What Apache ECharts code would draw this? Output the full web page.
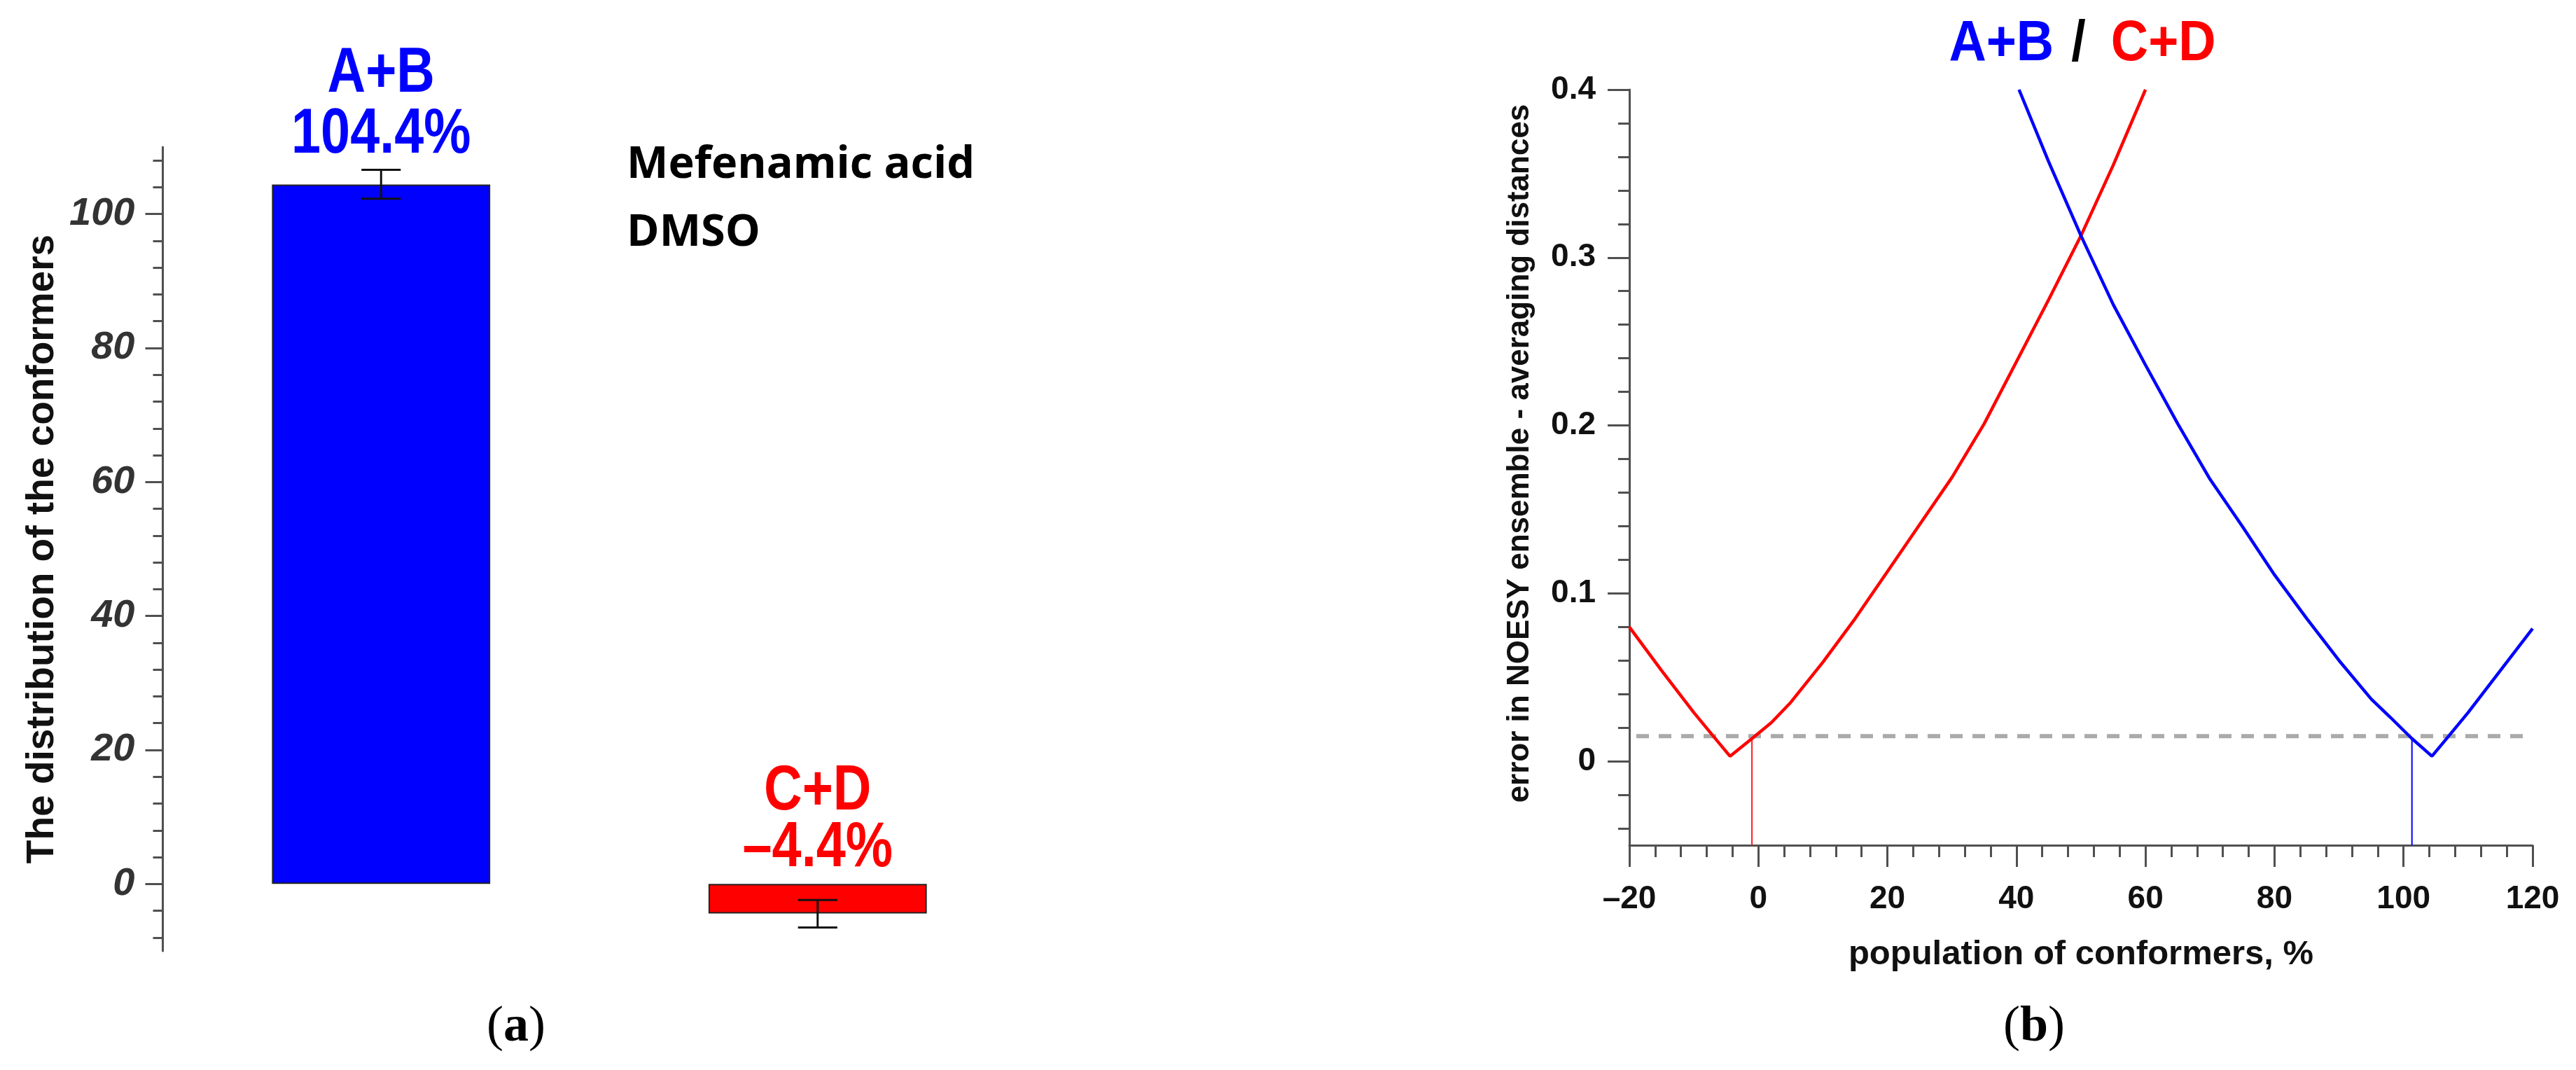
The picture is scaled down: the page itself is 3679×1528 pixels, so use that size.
<!DOCTYPE html>
<html><head><meta charset="utf-8">
<script src="https://cdn.jsdelivr.net/npm/echarts@6/dist/echarts.min.js"></script>
<style>html,body{margin:0;padding:0;background:#fff}#c{width:3679px;height:1528px}</style>
</head><body><div id="c"></div>
<script>
// ---------- panel (a) data ----------
const barCategories = ['A+B', 'C+D'];
const barValues = [104.4, -4.4];
const barErrLow = [102.3, -6.5];
const barErrHigh = [106.6, -2.4];
const barColors = ['#0000ff', '#ff0000'];
const leftYTickLabels = [0, 20, 40, 60, 80, 100];
const leftYMinorTicks = [-8, -4, 4, 8, 12, 16, 24, 28, 32, 36, 44, 48, 52, 56, 64, 68, 72, 76, 84, 88, 92, 96, 104, 108];

// ---------- panel (b) data ----------
const popRed = [-20, -15, -10, -7, -4.4, -1, 2, 5, 10, 15, 20, 25, 30, 35, 40, 45, 50, 55, 60];
const errRed = [0.080, 0.054, 0.029, 0.015, 0.003, 0.0135, 0.023, 0.035, 0.059, 0.085, 0.113, 0.141, 0.169, 0.201, 0.238, 0.275, 0.313, 0.355, 0.400];
const popBlue = [40.4, 45, 50, 55, 60, 65, 70, 75, 80, 85, 90, 95, 98, 101.3, 104.4, 107, 110, 115, 120];
const errBlue = [0.400, 0.357, 0.313, 0.272, 0.236, 0.201, 0.168, 0.140, 0.111, 0.085, 0.060, 0.037, 0.026, 0.0135, 0.003, 0.015, 0.029, 0.054, 0.079];
const thresholdErr = 0.015;
const bestRedPop = -1, bestBluePop = 101.3, bestErr = 0.0135;
const rightYTickLabels = [0, 0.1, 0.2, 0.3, 0.4];
const rightYMinorTicks = [-0.04, -0.02, 0.02, 0.04, 0.06, 0.08, 0.12, 0.14, 0.16, 0.18, 0.22, 0.24, 0.26, 0.28, 0.32, 0.34, 0.36, 0.38];

const SANS = '"Liberation Sans", Arial, sans-serif';
const AX = '#505050';

const chart = echarts.init(document.getElementById('c'), null, {renderer: 'canvas', width: 3679, height: 1528});

const fmtVal = v => (v < 0 ? '\u2013' + Math.abs(v) : String(v));

const option = {
  animation: false,
  backgroundColor: '#ffffff',
  grid: [
    {left: 232.5, top: 210, width: 1247, height: 1148},
    {left: 2327, top: 128, width: 1290, height: 1079}
  ],
  xAxis: [
    {gridIndex: 0, type: 'category', data: barCategories, axisLine: {show: false, onZero: false}, axisTick: {show: false}, axisLabel: {show: false}},
    {gridIndex: 1, type: 'value', min: -20, max: 120, interval: 20, position: 'bottom',
      axisLine: {onZero: false, lineStyle: {color: AX, width: 3}},
      axisTick: {length: 31, lineStyle: {color: AX, width: 3}},
      minorTick: {show: true, splitNumber: 5, length: 17, lineStyle: {color: AX, width: 3}},
      splitLine: {show: false}, minorSplitLine: {show: false},
      axisLabel: {margin: 54, fontFamily: SANS, fontWeight: 'bold', fontSize: 46, color: '#111', formatter: fmtVal},
      name: 'population of conformers, %', nameLocation: 'middle', nameGap: 132,
      nameTextStyle: {fontFamily: SANS, fontWeight: 'bold', fontSize: 49, color: '#111'}
    }
  ],
  yAxis: [
    {gridIndex: 0, type: 'value', min: -10, max: 110, position: 'left',
      axisLine: {show: true, onZero: false, lineStyle: {color: AX, width: 3}},
      axisTick: {show: true, length: 25, customValues: leftYTickLabels, lineStyle: {color: AX, width: 3}},
      axisLabel: {customValues: leftYTickLabels, margin: 40, fontFamily: SANS, fontStyle: 'italic', fontWeight: 'bold', fontSize: 56, color: '#333'},
      splitLine: {show: false},
      name: 'The distribution of the conformers', nameLocation: 'middle', nameGap: 144, nameRotate: 90,
      nameTextStyle: {fontFamily: SANS, fontWeight: 'bold', fontSize: 55, color: '#111'}
    },
    {gridIndex: 0, type: 'value', min: -10, max: 110, position: 'left',
      axisLine: {show: false, onZero: false},
      axisTick: {show: true, length: 14, customValues: leftYMinorTicks, lineStyle: {color: AX, width: 3}},
      axisLabel: {show: false}, splitLine: {show: false}
    },
    {gridIndex: 1, type: 'value', min: -0.05, max: 0.4, position: 'left',
      axisLine: {show: true, onZero: false, lineStyle: {color: AX, width: 3}},
      axisTick: {show: true, length: 31, customValues: rightYTickLabels, lineStyle: {color: AX, width: 3}},
      axisLabel: {customValues: rightYTickLabels, margin: 48, fontFamily: SANS, fontWeight: 'bold', fontSize: 46, color: '#111'},
      splitLine: {show: false},
      name: 'error in NOESY ensemble - averaging distances', nameLocation: 'middle', nameGap: 134, nameRotate: 90,
      nameTextStyle: {fontFamily: SANS, fontWeight: 'bold', fontSize: 44, color: '#111', padding: [0, 0, 0, 40]}
    },
    {gridIndex: 1, type: 'value', min: -0.05, max: 0.4, position: 'left',
      axisLine: {show: false, onZero: false},
      axisTick: {show: true, length: 16, customValues: rightYMinorTicks, lineStyle: {color: AX, width: 3}},
      axisLabel: {show: false}, splitLine: {show: false}
    }
  ],
  series: [
    {type: 'bar', xAxisIndex: 0, yAxisIndex: 0, barWidth: '50%',
      data: barValues.map((v, i) => ({value: v, itemStyle: {color: barColors[i]}})),
      itemStyle: {borderColor: '#222', borderWidth: 2}
    },
    {type: 'custom', xAxisIndex: 0, yAxisIndex: 0, z: 10,
      encode: {x: 0, y: [1, 2]},
      data: barCategories.map((c, i) => [i, barErrLow[i], barErrHigh[i]]),
      renderItem: function (params, api) {
        const x = api.value(0);
        const lo = api.coord([x, api.value(1)]);
        const hi = api.coord([x, api.value(2)]);
        const hw = api.size([1, 0])[0] * 0.045;
        const st = {stroke: '#111', lineWidth: 3};
        return {type: 'group', children: [
          {type: 'line', shape: {x1: lo[0], y1: lo[1], x2: hi[0], y2: hi[1]}, style: st},
          {type: 'line', shape: {x1: lo[0] - hw, y1: lo[1], x2: lo[0] + hw, y2: lo[1]}, style: st},
          {type: 'line', shape: {x1: hi[0] - hw, y1: hi[1], x2: hi[0] + hw, y2: hi[1]}, style: st}
        ]};
      }
    },
    {type: 'line', xAxisIndex: 1, yAxisIndex: 2, showSymbol: false, z: 1,
      data: [[-20, thresholdErr], [120, thresholdErr]],
      lineStyle: {color: '#aaaaaa', width: 6, type: [18, 14], dashOffset: -10}
    },
    {type: 'line', xAxisIndex: 1, yAxisIndex: 2, showSymbol: false, z: 3,
      data: popRed.map((x, i) => [x, errRed[i]]), lineStyle: {color: '#ff0000', width: 4.5}
    },
    {type: 'line', xAxisIndex: 1, yAxisIndex: 2, showSymbol: false, z: 3,
      data: popBlue.map((x, i) => [x, errBlue[i]]), lineStyle: {color: '#0000ff', width: 4.5}
    },
    {type: 'line', xAxisIndex: 1, yAxisIndex: 2, showSymbol: false, z: 2,
      data: [[bestRedPop, -0.05], [bestRedPop, bestErr]], lineStyle: {color: '#ff2020', width: 2}
    },
    {type: 'line', xAxisIndex: 1, yAxisIndex: 2, showSymbol: false, z: 2,
      data: [[bestBluePop, -0.05], [bestBluePop, bestErr]], lineStyle: {color: '#0000ff', width: 2}
    }
  ]
};
chart.setOption(option);

// Bar value labels, placed through the chart's own scale (condensed via scaleX)
const labelGraphics = [];
const lineOffsets = [[-157, -70], [-131, -50]];
barValues.forEach((v, i) => {
  const anchor = chart.convertToPixel({xAxisIndex: 0, yAxisIndex: 0}, [i, Math.max(v, 0)]);
  const lines = [barCategories[i], fmtVal(v) + '%'];
  lines.forEach((t, k) => {
    labelGraphics.push({type: 'text', x: anchor[0], y: anchor[1] + lineOffsets[i][k], scaleX: 0.84,
      style: {text: t, font: 'bold 90px ' + SANS, fill: barColors[i], align: 'center', verticalAlign: 'middle'}});
  });
});

chart.setOption({graphic: labelGraphics.concat([
  {type: 'text', x: 895, y: 236, style: {text: 'Mefenamic acid', font: 'bold 63px "Open Sans", sans-serif', fill: '#000', verticalAlign: 'middle'}},
  {type: 'text', x: 895, y: 333, style: {text: 'DMSO', font: 'bold 63px "Open Sans", sans-serif', fill: '#000', verticalAlign: 'middle'}},
  {type: 'text', x: 2974, y: 63, scaleX: 0.9, style: {text: '{b|A+B}{k|/}{r|C+D}', align: 'center', verticalAlign: 'middle',
    rich: {
      b: {fontFamily: SANS, fontWeight: 'bold', fontSize: 82, fill: '#0000ff'},
      k: {fontFamily: SANS, fontWeight: 'bold', fontSize: 82, fill: '#000', padding: [0, 40, 0, 28]},
      r: {fontFamily: SANS, fontWeight: 'bold', fontSize: 82, fill: '#ff0000'}
    }}},
  {type: 'text', x: 737, y: 1467, style: {text: '({a|a})', align: 'center', verticalAlign: 'middle',
    font: '72px "Liberation Serif", serif', fill: '#000',
    rich: {a: {fontFamily: '"Liberation Serif", serif', fontWeight: 'bold', fontSize: 72, fill: '#000'}}}},
  {type: 'text', x: 2905, y: 1467, style: {text: '({a|b})', align: 'center', verticalAlign: 'middle',
    font: '72px "Liberation Serif", serif', fill: '#000',
    rich: {a: {fontFamily: '"Liberation Serif", serif', fontWeight: 'bold', fontSize: 72, fill: '#000'}}}}
])});
</script>
</body></html>
